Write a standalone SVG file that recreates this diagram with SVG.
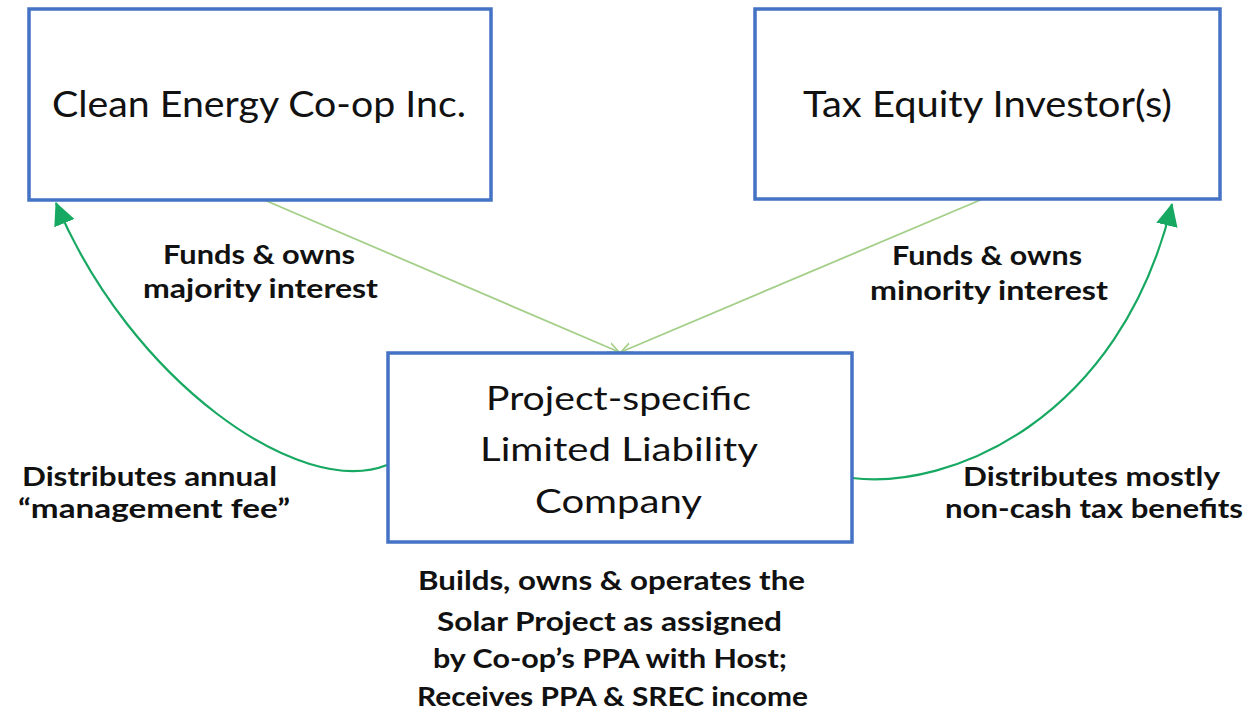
<svg xmlns="http://www.w3.org/2000/svg" width="1260" height="715" viewBox="0 0 1260 715">
<style>
.box{fill:#fff;stroke:#4472c4;stroke-width:3.5}
.t{font-family:Lato,"Open Sans","Liberation Sans",sans-serif;fill:#111;text-anchor:middle}
.big{font-size:37px}
.mid{font-size:32px}
.lbl{font-size:27px;font-weight:bold}
.thin{fill:none;stroke:#a3cf88;stroke-width:1.8}
.curve{fill:none;stroke:#17a862;stroke-width:2.2}
</style>
<defs>
<marker id="open" viewBox="0 0 12 12" refX="11" refY="6" markerWidth="12" markerHeight="12" markerUnits="userSpaceOnUse" orient="auto">
<path d="M0,1 L11,6 L0,11" fill="none" stroke="#a3cf88" stroke-width="1.6"/>
</marker>
<marker id="solid" viewBox="0 0 22 22" refX="20" refY="11" markerWidth="24" markerHeight="24" markerUnits="userSpaceOnUse" orient="auto">
<path d="M0,1 L21,11 L0,21 Z" fill="#17a862"/>
</marker>
</defs>
<rect width="1260" height="715" fill="#fff"/>
<g id="connectors">
<path class="thin" d="M262,199 L619,352" marker-end="url(#open)"/>
<path class="thin" d="M985,198 L621,352" marker-end="url(#open)"/>
<path class="curve" d="M387,465 C300,500 130,380 56,203" marker-end="url(#solid)"/>
<path class="curve" d="M852,478 C950,490 1120,420 1172,204" marker-end="url(#solid)"/>
</g>
<g id="coop">
<rect class="box" x="29" y="9" width="462" height="191"/>
<text class="t big" x="259" y="117" textLength="414" lengthAdjust="spacingAndGlyphs">Clean Energy Co-op Inc.</text>
</g>
<g id="investor">
<rect class="box" x="755" y="9" width="465" height="190"/>
<text class="t big" x="987.5" y="117" textLength="369" lengthAdjust="spacingAndGlyphs">Tax Equity Investor(s)</text>
</g>
<g id="llc">
<rect class="box" x="388" y="353" width="464" height="189"/>
<text class="t mid" x="618.5" y="410" textLength="265" lengthAdjust="spacingAndGlyphs">Project-specific</text>
<text class="t mid" x="619" y="461" textLength="278" lengthAdjust="spacingAndGlyphs">Limited Liability</text>
<text class="t mid" x="618.5" y="513" textLength="167" lengthAdjust="spacingAndGlyphs">Company</text>
</g>
<g id="labels">
<text class="t lbl" x="259" y="264" textLength="192" lengthAdjust="spacingAndGlyphs">Funds &amp; owns</text>
<text class="t lbl" x="260.5" y="298" textLength="235" lengthAdjust="spacingAndGlyphs">majority interest</text>
<text class="t lbl" x="987" y="265" textLength="190" lengthAdjust="spacingAndGlyphs">Funds &amp; owns</text>
<text class="t lbl" x="989" y="300" textLength="238" lengthAdjust="spacingAndGlyphs">minority interest</text>
<text class="t lbl" x="149.5" y="486" textLength="255" lengthAdjust="spacingAndGlyphs">Distributes annual</text>
<text class="t lbl" x="154" y="518" textLength="272" lengthAdjust="spacingAndGlyphs">“management fee”</text>
<text class="t lbl" x="1091.5" y="486" textLength="257" lengthAdjust="spacingAndGlyphs">Distributes mostly</text>
<text class="t lbl" x="1094" y="518" textLength="298" lengthAdjust="spacingAndGlyphs">non-cash tax benefits</text>
<text class="t lbl" x="611.5" y="590" textLength="387" lengthAdjust="spacingAndGlyphs">Builds, owns &amp; operates the</text>
<text class="t lbl" x="609.5" y="631" textLength="345" lengthAdjust="spacingAndGlyphs">Solar Project as assigned</text>
<text class="t lbl" x="610" y="668" textLength="354" lengthAdjust="spacingAndGlyphs">by Co-op’s PPA with Host;</text>
<text class="t lbl" x="612.5" y="706" textLength="391" lengthAdjust="spacingAndGlyphs">Receives PPA &amp; SREC income</text>
</g>
</svg>
